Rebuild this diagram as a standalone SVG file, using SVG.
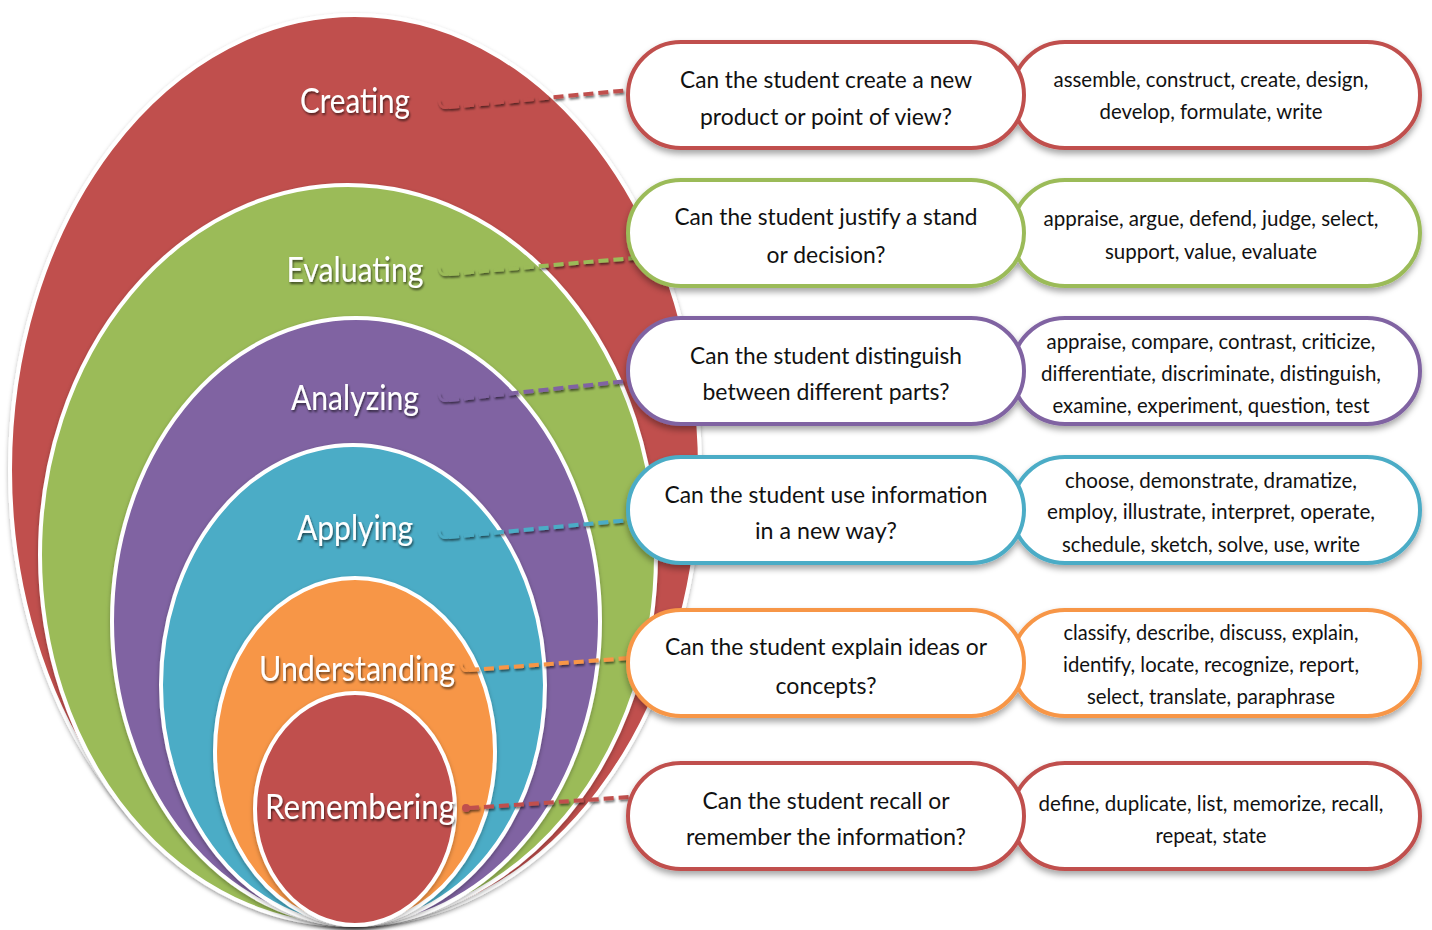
<svg xmlns="http://www.w3.org/2000/svg" width="1432" height="930" viewBox="0 0 1432 930">
<defs>
<filter id="sh" x="-10%" y="-10%" width="120%" height="130%">
<feDropShadow dx="0" dy="4" stdDeviation="3" flood-color="#000" flood-opacity="0.35"/>
</filter>
<filter id="esh" x="-10%" y="-10%" width="120%" height="120%">
<feDropShadow dx="0" dy="2" stdDeviation="2" flood-color="#000" flood-opacity="0.3"/>
</filter>
<filter id="tsh" x="-10%" y="-20%" width="120%" height="140%">
<feDropShadow dx="1" dy="2" stdDeviation="1" flood-color="#000" flood-opacity="0.6"/>
</filter>
<filter id="csh" x="-10%" y="-100%" width="120%" height="300%">
<feDropShadow dx="1" dy="2" stdDeviation="1.2" flood-color="#000" flood-opacity="0.55"/>
</filter>
</defs>
<style>
.ell{stroke:#fff;stroke-width:4}
.lbl{font-family:Lato,"Liberation Sans",sans-serif;font-size:35px;fill:#fff;text-anchor:middle}
.q{font-family:Lato,"Liberation Sans",sans-serif;font-size:24px;fill:#111;text-anchor:middle}
.v{font-family:Lato,"Liberation Sans",sans-serif;font-size:21px;fill:#111;text-anchor:middle}
.pill{fill:#fff;stroke-width:4}
.con{fill:none;stroke-width:4;stroke-dasharray:10 5}
.hook{fill:none;stroke-width:2.5}
</style>
<rect width="1432" height="930" fill="#fff"/>

<g id="levels">
<g id="creating">
<ellipse cx="355" cy="470" rx="345" ry="455" fill="#C0504D" class="ell" filter="url(#esh)"/>
</g>
<g id="evaluating">
<ellipse cx="348" cy="555" rx="308" ry="370" fill="#9BBB59" class="ell" filter="url(#esh)"/>
</g>
<g id="analyzing">
<ellipse cx="356" cy="621.5" rx="244" ry="303.5" fill="#8064A2" class="ell" filter="url(#esh)"/>
</g>
<g id="applying">
<ellipse cx="353" cy="685" rx="192" ry="240" fill="#4BACC6" class="ell" filter="url(#esh)"/>
</g>
<g id="understanding">
<ellipse cx="355" cy="751.5" rx="140" ry="173.5" fill="#F79646" class="ell" filter="url(#esh)"/>
</g>
<g id="remembering">
<ellipse cx="355" cy="809" rx="100" ry="116" fill="#C0504D" class="ell" filter="url(#esh)"/>
</g>
</g>

<g id="labels" filter="url(#tsh)">
<text class="lbl" x="355" y="113" textLength="110" lengthAdjust="spacingAndGlyphs">Creating</text>
<text class="lbl" x="355" y="282" textLength="137" lengthAdjust="spacingAndGlyphs">Evaluating</text>
<text class="lbl" x="355" y="410" textLength="128" lengthAdjust="spacingAndGlyphs">Analyzing</text>
<text class="lbl" x="355" y="540" textLength="116" lengthAdjust="spacingAndGlyphs">Applying</text>
<text class="lbl" x="357" y="681" textLength="196" lengthAdjust="spacingAndGlyphs">Understanding</text>
<text class="lbl" x="360" y="819" textLength="190" lengthAdjust="spacingAndGlyphs">Remembering</text>
</g>

<g id="connectors" filter="url(#csh)">
<path class="hook" stroke="#C0504D" d="M439,100 q1,10 10,7"/>
<path class="con" stroke="#C0504D" d="M449,107 L630,90"/>
<path class="hook" stroke="#9BBB59" d="M439,267 q1,10 10,7"/>
<path class="con" stroke="#9BBB59" d="M449,274 L634,258"/>
<path class="hook" stroke="#8064A2" d="M439,393 q1,10 10,7"/>
<path class="con" stroke="#8064A2" d="M449,400 L628,381"/>
<path class="hook" stroke="#4BACC6" d="M439,530 q1,10 10,7"/>
<path class="con" stroke="#4BACC6" d="M449,537 L630,520"/>
<path class="hook" stroke="#F79646" d="M461,663 q1,10 8,7"/>
<path class="con" stroke="#F79646" d="M469,670 L630,658"/>
<circle cx="466" cy="808" r="4" fill="#C0504D"/>
<path class="con" stroke="#C0504D" d="M469,808 L630,797"/>
</g>

<g id="row1" filter="url(#sh)">
<rect class="pill" stroke="#C0504D" x="1012" y="42" width="408" height="106" rx="53"/>
<rect class="pill" stroke="#C0504D" x="628" y="42" width="396" height="106" rx="53"/>
</g>
<g id="row2" filter="url(#sh)">
<rect class="pill" stroke="#9BBB59" x="1012" y="180" width="408" height="106" rx="53"/>
<rect class="pill" stroke="#9BBB59" x="628" y="180" width="396" height="106" rx="53"/>
</g>
<g id="row3" filter="url(#sh)">
<rect class="pill" stroke="#8064A2" x="1012" y="318" width="408" height="106" rx="53"/>
<rect class="pill" stroke="#8064A2" x="628" y="318" width="396" height="106" rx="53"/>
</g>
<g id="row4" filter="url(#sh)">
<rect class="pill" stroke="#4BACC6" x="1012" y="457" width="408" height="106" rx="53"/>
<rect class="pill" stroke="#4BACC6" x="628" y="457" width="396" height="106" rx="53"/>
</g>
<g id="row5" filter="url(#sh)">
<rect class="pill" stroke="#F79646" x="1012" y="610" width="408" height="106" rx="53"/>
<rect class="pill" stroke="#F79646" x="628" y="610" width="396" height="106" rx="53"/>
</g>
<g id="row6" filter="url(#sh)">
<rect class="pill" stroke="#C0504D" x="1012" y="763" width="408" height="106" rx="53"/>
<rect class="pill" stroke="#C0504D" x="628" y="763" width="396" height="106" rx="53"/>
</g>

<g id="texts">
<text class="q" x="826" y="88" textLength="292" lengthAdjust="spacingAndGlyphs">Can the student create a new</text>
<text class="q" x="826" y="125" textLength="252" lengthAdjust="spacingAndGlyphs">product or point of view?</text>
<text class="v" x="1211" y="87" textLength="315" lengthAdjust="spacingAndGlyphs">assemble, construct, create, design,</text>
<text class="v" x="1211" y="119" textLength="223" lengthAdjust="spacingAndGlyphs">develop, formulate, write</text>

<text class="q" x="826" y="225" textLength="303" lengthAdjust="spacingAndGlyphs">Can the student justify a stand</text>
<text class="q" x="826" y="263" textLength="119" lengthAdjust="spacingAndGlyphs">or decision?</text>
<text class="v" x="1211" y="226" textLength="335" lengthAdjust="spacingAndGlyphs">appraise, argue, defend, judge, select,</text>
<text class="v" x="1211" y="259" textLength="212" lengthAdjust="spacingAndGlyphs">support, value, evaluate</text>

<text class="q" x="826" y="364" textLength="272" lengthAdjust="spacingAndGlyphs">Can the student distinguish</text>
<text class="q" x="826" y="400" textLength="247" lengthAdjust="spacingAndGlyphs">between different parts?</text>
<text class="v" x="1211" y="349" textLength="329" lengthAdjust="spacingAndGlyphs">appraise, compare, contrast, criticize,</text>
<text class="v" x="1211" y="381" textLength="340" lengthAdjust="spacingAndGlyphs">differentiate, discriminate, distinguish,</text>
<text class="v" x="1211" y="413" textLength="317" lengthAdjust="spacingAndGlyphs">examine, experiment, question, test</text>

<text class="q" x="826" y="503" textLength="323" lengthAdjust="spacingAndGlyphs">Can the student use information</text>
<text class="q" x="826" y="539" textLength="142" lengthAdjust="spacingAndGlyphs">in a new way?</text>
<text class="v" x="1211" y="488" textLength="292" lengthAdjust="spacingAndGlyphs">choose, demonstrate, dramatize,</text>
<text class="v" x="1211" y="519" textLength="328" lengthAdjust="spacingAndGlyphs">employ, illustrate, interpret, operate,</text>
<text class="v" x="1211" y="552" textLength="298" lengthAdjust="spacingAndGlyphs">schedule, sketch, solve, use, write</text>

<text class="q" x="826" y="655" textLength="322" lengthAdjust="spacingAndGlyphs">Can the student explain ideas or</text>
<text class="q" x="826" y="694" textLength="101" lengthAdjust="spacingAndGlyphs">concepts?</text>
<text class="v" x="1211" y="640" textLength="295" lengthAdjust="spacingAndGlyphs">classify, describe, discuss, explain,</text>
<text class="v" x="1211" y="672" textLength="296" lengthAdjust="spacingAndGlyphs">identify, locate, recognize, report,</text>
<text class="v" x="1211" y="704" textLength="248" lengthAdjust="spacingAndGlyphs">select, translate, paraphrase</text>

<text class="q" x="826" y="809" textLength="247" lengthAdjust="spacingAndGlyphs">Can the student recall or</text>
<text class="q" x="826" y="845" textLength="280" lengthAdjust="spacingAndGlyphs">remember the information?</text>
<text class="v" x="1211" y="811" textLength="345" lengthAdjust="spacingAndGlyphs">define, duplicate, list, memorize, recall,</text>
<text class="v" x="1211" y="843" textLength="111" lengthAdjust="spacingAndGlyphs">repeat, state</text>
</g>
</svg>
